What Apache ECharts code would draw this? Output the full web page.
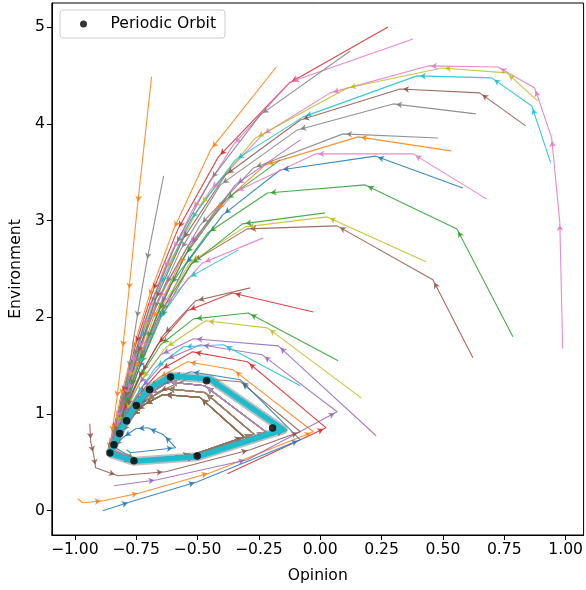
<!DOCTYPE html>
<html><head><meta charset="utf-8">
<script src="https://cdn.jsdelivr.net/npm/echarts@6/dist/echarts.min.js"></script>
<style>html,body{margin:0;padding:0;background:#fff}#c{width:586px;height:590px}</style>
</head><body><div id="c"></div><script>
// ---- axis ticks ----
const xTicks = [-1, -0.75, -0.5, -0.25, 0, 0.25, 0.5, 0.75, 1];
const yTicks = [0, 1, 2, 3, 4, 5];

// ---- periodic orbit ----
const orbitX = [-0.857, -0.840, -0.817, -0.789, -0.749, -0.695, -0.610, -0.463, -0.194, -0.501, -0.759];
const orbitY = [0.594, 0.679, 0.796, 0.928, 1.086, 1.251, 1.380, 1.341, 0.852, 0.563, 0.514];

// ---- loop variants (iterates circling the attractor) ----
const loopA = [[-0.76,0.51],[-0.50,0.555],[-0.14,0.83],[-0.45,1.36],[-0.61,1.40],[-0.70,1.26],[-0.75,1.09],[-0.79,0.93],[-0.82,0.80],[-0.84,0.68],[-0.858,0.59]];
const loopB = [[-0.76,0.52],[-0.50,0.565],[-0.22,0.81],[-0.47,1.29],[-0.62,1.33],[-0.70,1.20],[-0.76,1.05],[-0.80,0.91],[-0.82,0.78],[-0.845,0.67],[-0.858,0.59]];
const loopC = [[-0.76,0.52],[-0.51,0.57],[-0.27,0.79],[-0.47,1.22],[-0.63,1.26],[-0.71,1.14],[-0.77,1.00],[-0.80,0.87],[-0.83,0.76],[-0.85,0.66],[-0.86,0.59]];
const loopD = [[-0.75,0.52],[-0.52,0.575],[-0.31,0.76],[-0.49,1.17],[-0.64,1.20],[-0.72,1.09],[-0.77,0.97],[-0.81,0.85],[-0.83,0.74],[-0.85,0.65],[-0.86,0.59]];
const bandPath = [[-0.858,0.59],[-0.76,0.51],[-0.50,0.555],[-0.15,0.835],[-0.45,1.36],[-0.61,1.39],[-0.70,1.255],[-0.75,1.09],[-0.79,0.93],[-0.82,0.80],[-0.84,0.68],[-0.858,0.59]];

// ---- trajectories (transients) ----
const t01 = [[0.988,1.672],[0.976,2.986],[0.943,3.854],[0.874,4.371],[0.724,4.588],[0.439,4.599],[0.041,4.320],[-0.236,3.885],[-0.447,3.316],[-0.602,2.696],[-0.699,2.075],[-0.764,1.507],[-0.813,1.041],[-0.846,0.731],[-0.858,0.6]];
const t02 = [[0.886,4.237],[0.760,4.527],[0.496,4.578],[0.110,4.371],[-0.264,3.854],[-0.488,3.161],[-0.630,2.489],[-0.720,1.869],[-0.780,1.352],[-0.825,0.887],[-0.854,0.649]];
const t03 = [[0.939,3.596],[0.862,4.185],[0.699,4.475],[0.394,4.496],[-0.069,4.072],[-0.346,3.627],[-0.528,3.006],[-0.650,2.334],[-0.732,1.765],[-0.793,1.248],[-0.833,0.855],[-0.858,0.628]];
const t04 = [[0.837,3.979],[0.650,4.320],[0.325,4.361],[-0.081,4.040],[-0.386,3.471],[-0.561,2.799],[-0.671,2.180],[-0.744,1.611],[-0.797,1.145],[-0.837,0.783],[-0.858,0.607]];
const t05 = [[0.634,4.103],[0.297,4.206],[-0.093,3.937],[-0.407,3.368],[-0.569,2.696],[-0.679,2.075],[-0.752,1.507],[-0.805,1.041],[-0.841,0.731],[-0.862,0.576]];
const t06 = [[0.480,3.854],[0.093,3.896],[-0.272,3.544],[-0.488,2.955],[-0.630,2.334],[-0.724,1.765],[-0.789,1.248],[-0.833,0.855],[-0.858,0.628]];
const t07 = [[0.533,3.720],[0.154,3.865],[-0.224,3.575],[-0.427,3.109],[-0.577,2.540],[-0.683,1.972],[-0.752,1.455],[-0.805,1.041],[-0.841,0.731],[-0.862,0.576]];
const t08 = [[0.679,3.221],[0.378,3.689],[-0.020,3.689],[-0.346,3.296],[-0.537,2.748],[-0.659,2.180],[-0.740,1.662],[-0.797,1.166],[-0.837,0.814],[-0.858,0.628]];
const t09 = [[0.581,3.335],[0.224,3.666],[-0.163,3.522],[-0.398,3.056],[-0.549,2.540],[-0.659,1.972],[-0.740,1.455],[-0.797,1.042],[-0.837,0.742],[-0.858,0.607]];
const t10 = [[0.785,1.796],[0.557,2.913],[0.183,3.368],[-0.215,3.285],[-0.459,2.871],[-0.610,2.334],[-0.707,1.765],[-0.772,1.268],[-0.821,0.887],[-0.854,0.628]];
const t11 = [[0.276,5.002],[-0.126,4.423],[-0.415,3.658],[-0.581,2.903],[-0.683,2.262],[-0.752,1.714],[-0.805,1.197],[-0.841,0.814],[-0.862,0.607]];
const t12 = [[0.122,4.754],[-0.244,4.093],[-0.447,3.420],[-0.589,2.748],[-0.691,2.128],[-0.760,1.580],[-0.813,1.093],[-0.846,0.752],[-0.862,0.597]];
const t13 = [[0.378,4.878],[-0.122,4.433],[-0.354,3.782],[-0.520,3.110],[-0.638,2.489],[-0.724,1.890],[-0.785,1.373],[-0.829,0.938],[-0.858,0.659]];
const t14 = [[-0.179,4.588],[-0.447,3.730],[-0.598,2.903],[-0.699,2.200],[-0.764,1.662],[-0.813,1.166],[-0.846,0.804],[-0.862,0.607]];
const t15 = [[-0.687,4.488],[-0.744,3.161],[-0.780,2.262],[-0.805,1.662],[-0.829,1.145],[-0.850,0.783],[-0.862,0.607]];
const t16 = [[-0.638,3.461],[-0.707,2.572],[-0.748,1.972],[-0.780,1.455],[-0.813,1.041],[-0.841,0.731],[-0.862,0.576]];
const t17 = [[0.020,3.079],[-0.317,2.965],[-0.528,2.540],[-0.650,1.992],[-0.732,1.507],[-0.793,1.093],[-0.833,0.783],[-0.858,0.607]];
const t18 = [[0.431,2.572],[0.028,3.037],[-0.305,2.934],[-0.528,2.572],[-0.659,2.055],[-0.740,1.559],[-0.797,1.124],[-0.837,0.783],[-0.858,0.607]];
const t19 = [[0.622,1.579],[0.459,2.386],[0.069,2.944],[-0.297,2.913],[-0.520,2.572],[-0.650,2.055],[-0.736,1.559],[-0.797,1.114],[-0.837,0.772],[-0.858,0.607]];
const t20 = [[-0.232,2.820],[-0.480,2.561],[-0.630,2.127],[-0.720,1.662],[-0.785,1.227],[-0.829,0.855],[-0.858,0.628]];
const t21 = [[-0.333,2.696],[-0.537,2.406],[-0.659,1.972],[-0.740,1.507],[-0.797,1.093],[-0.837,0.762],[-0.858,0.607]];
const t22 = [[-0.285,2.303],[-0.508,2.169],[-0.638,1.817],[-0.728,1.424],[-0.789,1.062],[-0.833,0.762],[-0.858,0.607]];
const t23 = [[-0.028,2.053],[-0.358,2.250],[-0.541,2.066],[-0.663,1.714],[-0.744,1.352],[-0.801,1.021],[-0.837,0.752],[-0.858,0.607]];
const t24 = [[0.073,1.548],[-0.293,2.043],[-0.516,1.982],[-0.650,1.714],[-0.736,1.373],[-0.797,1.041],[-0.833,0.762],[-0.858,0.607]];
const t25 = [[0.167,1.165],[-0.215,1.889],[-0.467,1.962],[-0.630,1.683],[-0.728,1.352],[-0.793,1.021],[-0.833,0.752],[-0.858,0.607]];
const t26 = [[0.228,0.773],[-0.171,1.703],[-0.516,1.776],[-0.650,1.611],[-0.740,1.300],[-0.801,0.990],[-0.837,0.731],[-0.858,0.607]];
const t27 = [[-0.081,1.290],[-0.394,1.714],[-0.557,1.693],[-0.671,1.476],[-0.748,1.196],[-0.805,0.938],[-0.841,0.710],[-0.858,0.597]];
const t28 = [[-0.378,0.380],[0.024,0.855],[-0.297,1.538],[-0.520,1.641],[-0.650,1.455],[-0.740,1.196],[-0.801,0.938],[-0.837,0.710],[-0.858,0.597]];
const t29 = [[-0.988,0.121],[-0.967,0.080],[-0.882,0.100],[-0.732,0.183],[-0.447,0.390],[-0.028,0.814],[-0.354,1.455],[-0.541,1.538],[-0.659,1.373],[-0.744,1.145],[-0.805,0.887],[-0.841,0.679],[-0.858,0.597]];
const t30 = [[-0.886,-0.003],[-0.772,0.090],[-0.500,0.297],[-0.081,0.731],[-0.325,1.352],[-0.528,1.435],[-0.650,1.300],[-0.740,1.093],[-0.801,0.855],[-0.841,0.669],[-0.858,0.597]];
const t31 = [[-0.841,0.255],[-0.663,0.317],[-0.297,0.524],[0.069,1.021],[-0.236,1.610],[-0.488,1.714],[-0.630,1.559],[-0.728,1.269],[-0.793,0.990],[-0.833,0.731],[-0.858,0.597]];
const t32 = [[-0.939,0.897],[-0.935,0.710],[-0.923,0.576],[-0.915,0.441],[-0.825,0.359],[-0.630,0.400],[-0.285,0.628],[-0.081,0.814],[-0.325,1.331],[-0.528,1.373],[-0.659,1.228],[-0.748,1.021],[-0.809,0.804],[-0.846,0.649],[-0.858,0.597]];
const t33 = [[-0.789,0.628],[-0.772,0.597],[-0.589,0.649],[-0.638,0.783],[-0.703,0.855],[-0.752,0.845],[-0.805,0.752],[-0.841,0.659]];
const t34 = [[-0.081,3.834],[-0.346,3.368],[-0.528,2.748],[-0.650,2.127],[-0.732,1.579],[-0.793,1.124],[-0.833,0.783],[-0.858,0.607]];
const t35 = [[-0.163,3.627],[-0.386,3.213],[-0.549,2.644],[-0.659,2.055],[-0.736,1.538],[-0.797,1.093],[-0.837,0.762],[-0.858,0.607]];

const C = {blue:'#1f77b4',orange:'#ff7f0e',green:'#2ca02c',red:'#d62728',purple:'#9467bd',brown:'#8c564b',pink:'#e377c2',gray:'#7f7f7f',olive:'#bcbd22',cyan:'#17becf'};
const drawOrder = [t33,t29,t10,t11,t31,t32,t01,t05,t02,t03,t09,t07,t24,t28,t26,t19,t08,t06,t18,t27,t30,t14,t17,t23,t34,t04,t13,t12,t25,t21,t15,t35,t22,t20,t16];
const drawColors = ['blue','orange','green','red','purple','brown','pink','gray','olive','cyan','blue','orange','green','red','purple','brown','pink','gray','olive','cyan','blue','orange','green','red','purple','brown','pink','gray','olive','cyan','orange','green','brown','pink','gray'];
const loops = [loopD, loopB, loopC, loopA];

const chart = echarts.init(document.getElementById('c'), null, {renderer:'canvas'});
const FONT = 'DejaVu Sans';
const FS = 15.6;
const fmt = v => (v < 0 ? '\u2212' : '') + Math.abs(v).toFixed(2);

const fullPaths = drawOrder.map((t, i) => t.concat(loops[i % loops.length], loopA));

const series = [];
fullPaths.forEach((p, i) => {
  const col = C[drawColors[i]];
  series.push({type:'line', id:'L'+i, data:p, symbol:'none', showSymbol:false, silent:true,
    lineStyle:{color:col, width:1.1, opacity:0.85}, z:2, animation:false});
  series.push({type:'scatter', id:'A'+i, data:[], symbol:'arrow', symbolSize:[5,6], silent:true,
    itemStyle:{color:col, opacity:0.85}, z:2, animation:false});
});
series.push({type:'line', id:'bandGray', data:bandPath, symbol:'none', silent:true,
  lineStyle:{color:'#7f7f7f', width:9, opacity:0.5, join:'round'}, z:3, animation:false});
series.push({type:'line', id:'bandCyan', data:bandPath, symbol:'none', silent:true,
  lineStyle:{color:'#17becf', width:5.5, opacity:0.95, join:'round'}, z:3, animation:false});
series.push({type:'scatter', name:'Periodic Orbit', data:orbitX.map((x,i)=>[x,orbitY[i]]), symbol:'circle', symbolSize:7.5,
  itemStyle:{color:'#000'}, z:5, animation:false});

chart.setOption({
  animation:false,
  backgroundColor:'#fff',
  grid:{left:51, right:2, top:3, bottom:55, show:true, borderColor:'#000', borderWidth:1, backgroundColor:'transparent'},
  legend:{data:[{name:'Periodic Orbit', icon:'circle'}], left:60, top:10, orient:'vertical',
    itemWidth:26, itemHeight:7, padding:[6,9,6,20], backgroundColor:'rgba(255,255,255,0.8)',
    borderColor:'#cccccc', borderWidth:1, borderRadius:3,
    formatter: name => '{t|' + name + '}',
    textStyle:{fontFamily:FONT, fontSize:FS, color:'#000',
      rich:{t:{fontFamily:FONT, fontSize:FS, color:'#000', padding:[0,0,0,9]}}}},
  xAxis:{type:'value', min:-1.0935, max:1.073, name:'Opinion', nameLocation:'middle', nameGap:33,
    nameTextStyle:{fontFamily:FONT, fontSize:FS, color:'#000'},
    axisLine:{show:true, onZero:false, lineStyle:{color:'#000'}}, splitLine:{show:false},
    axisTick:{show:true, inside:false, length:5, lineStyle:{color:'#000'}, customValues:xTicks},
    axisLabel:{fontFamily:FONT, fontSize:FS, color:'#000', margin:7, customValues:xTicks, formatter:fmt}},
  yAxis:{type:'value', min:-0.254, max:5.25, name:'Environment', nameLocation:'middle', nameGap:27,
    nameTextStyle:{fontFamily:FONT, fontSize:FS, color:'#000'},
    axisLine:{show:true, onZero:false, lineStyle:{color:'#000'}}, splitLine:{show:false},
    axisTick:{show:true, inside:false, length:5, lineStyle:{color:'#000'}, customValues:yTicks},
    axisLabel:{fontFamily:FONT, fontSize:FS, color:'#000', margin:7, customValues:yTicks, formatter:v=>String(v)}},
  series:series
});

function arrowsFor(pts){
  const out = [];
  for (let i = 1; i < pts.length; i++){
    const a = chart.convertToPixel({gridIndex:0}, pts[i-1]);
    const b = chart.convertToPixel({gridIndex:0}, pts[i]);
    const dx = b[0]-a[0], dy = b[1]-a[1], L = Math.hypot(dx, dy);
    if (L < 7) continue;
    const back = 3;
    const v = chart.convertFromPixel({gridIndex:0}, [b[0]-dx/L*back, b[1]-dy/L*back]);
    out.push({value:v, symbolRotate: Math.atan2(-dx, -dy)*180/Math.PI});
  }
  return out;
}
chart.setOption({series: fullPaths.map((p,i)=>({id:'A'+i, data:arrowsFor(p)}))});
</script></body></html>
